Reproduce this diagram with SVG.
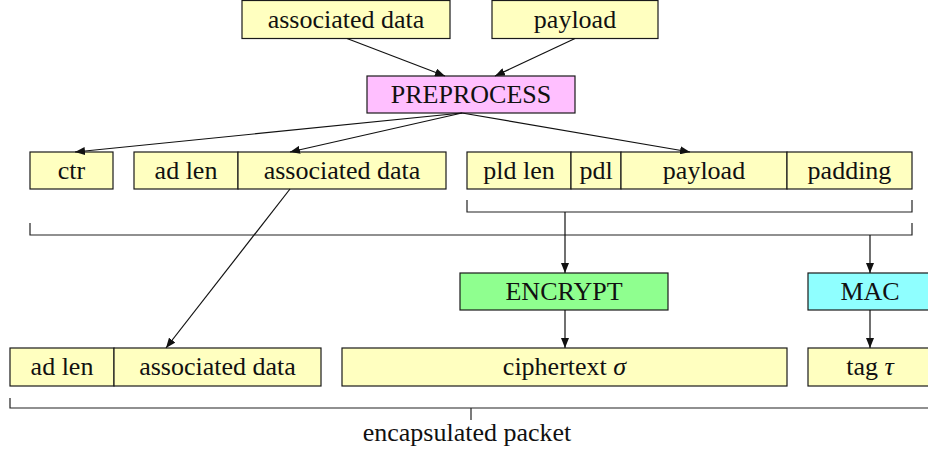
<svg xmlns="http://www.w3.org/2000/svg" width="928" height="455" viewBox="0 0 928 455">
  <defs>
    <marker id="arrow" viewBox="0 0 10 8" refX="10" refY="4" markerWidth="10" markerHeight="8" markerUnits="userSpaceOnUse" orient="auto">
      <path d="M0,0 L10,4 L0,8 Z" fill="#111"/>
    </marker>
  </defs>

  <!-- boxes share one stroke and the pale yellow fill -->
  <g stroke="#1a1a1a" stroke-width="1.2" fill="#ffffc0">
    <g id="in-ad"><rect x="242" y="0.5" width="208" height="38"/></g>
    <g id="in-payload"><rect x="492" y="0.5" width="166" height="38"/></g>
    <g id="preprocess"><rect fill="#ffbfff" x="367" y="76" width="208" height="37"/></g>
    <g id="ctr"><rect x="30" y="152" width="83" height="37"/></g>
    <g id="ad-fields">
      <rect x="134" y="152" width="104" height="37"/>
      <rect x="238" y="152" width="208" height="37"/>
    </g>
    <g id="pld-fields">
      <rect x="467" y="152" width="104" height="37"/>
      <rect x="571" y="152" width="50" height="37"/>
      <rect x="621" y="152" width="166" height="37"/>
      <rect x="787" y="152" width="125" height="37"/>
    </g>
    <g id="encrypt"><rect fill="#8fff8f" x="460" y="273" width="208" height="37"/></g>
    <g id="mac"><rect fill="#8fffff" x="808" y="273" width="125" height="37"/></g>
    <g id="out-ad">
      <rect x="10" y="348" width="104" height="38"/>
      <rect x="114" y="348" width="207" height="38"/>
    </g>
    <g id="ciphertext"><rect x="342" y="348" width="445" height="38"/></g>
    <g id="tag"><rect x="808" y="348" width="125" height="38"/></g>
  </g>

  <!-- braces -->
  <g id="braces" stroke="#222" stroke-width="1.2" fill="none">
    <path d="M467,200 V212 H912 V200"/>
    <path d="M30,223 V235 H912 V223"/>
    <path d="M10,398 V408 H940"/>
    <path d="M471,408 V420"/>
  </g>

  <!-- labels -->
  <g id="labels" fill="#111" text-anchor="middle">
    <text font-family="Liberation Serif" font-size="26" x="346" y="28">associated data</text>
    <text font-family="Liberation Serif" font-size="26" x="575" y="28">payload</text>
    <text font-family="Liberation Serif" font-size="26" x="471" y="103">PREPROCESS</text>
    <text font-family="Liberation Serif" font-size="26" x="71.5" y="179">ctr</text>
    <text font-family="Liberation Serif" font-size="26" x="186" y="179">ad len</text>
    <text font-family="Liberation Serif" font-size="26" x="342" y="179">associated data</text>
    <text font-family="Liberation Serif" font-size="26" x="519" y="179">pld len</text>
    <text font-family="Liberation Serif" font-size="26" x="596" y="179">pdl</text>
    <text font-family="Liberation Serif" font-size="26" x="704" y="179">payload</text>
    <text font-family="Liberation Serif" font-size="26" x="849.5" y="179">padding</text>
    <text font-family="Liberation Serif" font-size="26" x="564" y="300">ENCRYPT</text>
    <text font-family="Liberation Serif" font-size="26" x="870" y="300">MAC</text>
    <text font-family="Liberation Serif" font-size="26" x="62" y="375">ad len</text>
    <text font-family="Liberation Serif" font-size="26" x="217.5" y="375">associated data</text>
    <text font-family="Liberation Serif" font-size="26" x="564.5" y="375">ciphertext <tspan font-style="italic">&#963;</tspan></text>
    <text font-family="Liberation Serif" font-size="26" x="870" y="375">tag <tspan font-style="italic">&#964;</tspan></text>
    <text font-family="Liberation Serif" font-size="26" x="467" y="441">encapsulated packet</text>
  </g>

  <!-- connectors -->
  <g id="connectors" stroke="#111" stroke-width="1.2" fill="none">
    <line x1="347" y1="38.5" x2="445" y2="76" marker-end="url(#arrow)"/>
    <line x1="575" y1="38.5" x2="495" y2="76" marker-end="url(#arrow)"/>
    <line x1="462" y1="113" x2="75" y2="152" marker-end="url(#arrow)"/>
    <line x1="462" y1="113" x2="290" y2="152" marker-end="url(#arrow)"/>
    <line x1="462" y1="113" x2="690" y2="152" marker-end="url(#arrow)"/>
    <line x1="290" y1="189" x2="166" y2="348" marker-end="url(#arrow)"/>
    <line x1="565" y1="212" x2="565" y2="273" marker-end="url(#arrow)"/>
    <line x1="870" y1="235" x2="870" y2="273" marker-end="url(#arrow)"/>
    <line x1="565" y1="310" x2="565" y2="348" marker-end="url(#arrow)"/>
    <line x1="870" y1="310" x2="870" y2="348" marker-end="url(#arrow)"/>
  </g>
</svg>
